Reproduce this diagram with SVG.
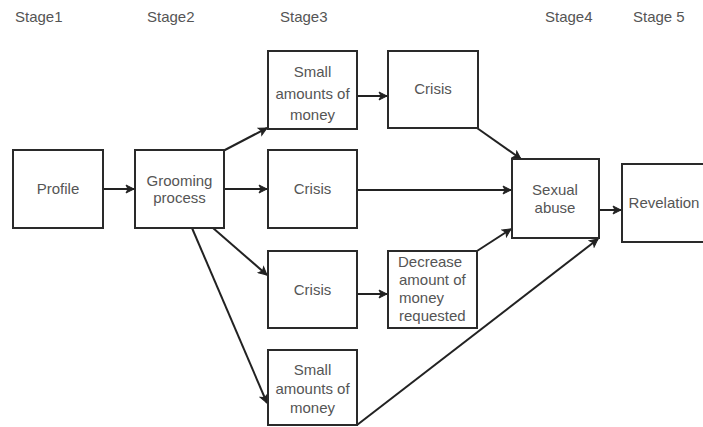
<svg xmlns="http://www.w3.org/2000/svg" width="703" height="427" viewBox="0 0 703 427">
<style>
.box{fill:#fff;stroke:#2a2a2a;stroke-width:2}
.t{font-family:"Liberation Sans",Arial,sans-serif;font-size:15px;fill:#555;text-anchor:middle}
.l{text-anchor:start}
.c{stroke:#222;stroke-width:2;fill:none;marker-end:url(#ah)}
</style>
<defs>
<marker id="ah" markerWidth="10" markerHeight="10" refX="9" refY="5" orient="auto" markerUnits="userSpaceOnUse">
<path d="M1,1 L9,5 L1,9 L3,5 z" fill="#222" stroke="#222" stroke-width="1"/>
</marker>
</defs>
<rect width="703" height="427" fill="#fff"/>
<g id="stages">
<text class="t l" x="15" y="22">Stage1</text>
<text class="t l" x="147" y="22">Stage2</text>
<text class="t l" x="280" y="22">Stage3</text>
<text class="t l" x="545" y="22">Stage4</text>
<text class="t l" x="633" y="22">Stage 5</text>
</g>
<g id="connectors">
<line class="c" x1="103" y1="189" x2="134" y2="189"/>
<line class="c" x1="224" y1="189" x2="267" y2="189"/>
<line class="c" x1="223" y1="151" x2="267" y2="128"/>
<line class="c" x1="213" y1="228" x2="267" y2="275"/>
<line class="c" x1="192" y1="228" x2="267" y2="403"/>
<line class="c" x1="357" y1="96" x2="387" y2="96"/>
<line class="c" x1="477" y1="128" x2="521" y2="159"/>
<line class="c" x1="357" y1="190" x2="511" y2="190"/>
<line class="c" x1="357" y1="294" x2="387" y2="294"/>
<line class="c" x1="477" y1="251" x2="511" y2="229"/>
<line class="c" x1="357" y1="425" x2="598" y2="239"/>
<line class="c" x1="599" y1="210" x2="621" y2="210"/>
</g>
<g id="profile">
<rect class="box" x="13" y="150" width="90" height="78"/>
<text class="t" x="58" y="194">Profile</text>
</g>
<g id="grooming">
<rect class="box" x="135" y="150" width="89" height="78"/>
<text class="t" x="179.5" y="186">Grooming</text>
<text class="t" x="179.5" y="203">process</text>
</g>
<g id="small1">
<rect class="box" x="268" y="51" width="89" height="78"/>
<text class="t" x="312.5" y="77">Small</text>
<text class="t" x="312.5" y="99">amounts of</text>
<text class="t" x="312.5" y="120">money</text>
</g>
<g id="crisis1">
<rect class="box" x="388" y="51" width="90" height="77"/>
<text class="t" x="433" y="94">Crisis</text>
</g>
<g id="crisis2">
<rect class="box" x="268" y="150" width="89" height="78"/>
<text class="t" x="312.5" y="194">Crisis</text>
</g>
<g id="crisis3">
<rect class="box" x="268" y="251" width="89" height="77"/>
<text class="t" x="312.5" y="295">Crisis</text>
</g>
<g id="decrease">
<rect class="box" x="388" y="251" width="89" height="77"/>
<text class="t l" x="398" y="267">Decrease</text>
<text class="t l" x="399" y="285">amount of</text>
<text class="t l" x="399" y="303">money</text>
<text class="t l" x="399" y="321">requested</text>
</g>
<g id="small2">
<rect class="box" x="268" y="350" width="89" height="75"/>
<text class="t" x="312.5" y="375">Small</text>
<text class="t" x="312.5" y="394">amounts of</text>
<text class="t" x="312.5" y="413">money</text>
</g>
<g id="sexual">
<rect class="box" x="512" y="159" width="87" height="79"/>
<text class="t" x="555" y="195">Sexual</text>
<text class="t" x="555" y="213">abuse</text>
</g>
<g id="revelation">
<rect class="box" x="622" y="164" width="86" height="78"/>
<text class="t" x="664" y="208">Revelation</text>
</g>
</svg>
